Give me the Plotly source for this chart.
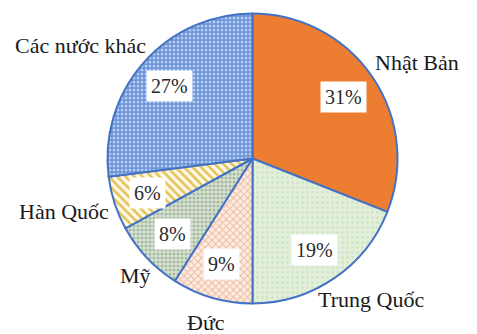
import math
import plotly.graph_objects as go

# Share of each partner (%), listed clockwise from 12 o'clock
countries = ["Nhật Bản", "Trung Quốc", "Đức", "Mỹ", "Hàn Quốc", "Các nước khác"]
shares = [31, 19, 9, 8, 6, 27]

W, H = 477, 334
CX, CY, R = 252.5, 158.5, 145.0   # pie centre and radius in pixels
FONT = "'Liberation Serif', 'Times New Roman', Times, serif"
FS_PCT = 20
FS_NAME = 22

fills = [
    dict(shape="", bgcolor="#ED7D31", fgcolor="#ED7D31"),
    dict(shape=".", bgcolor="#E2EFDA", fgcolor="#d2e5c6", size=5, solidity=0.25),
    dict(shape="x", bgcolor="#fcece3", fgcolor="#efb899", size=5, solidity=0.35),
    dict(shape=".", bgcolor="#d9e3d4", fgcolor="#a6b99e", size=4, solidity=0.45),
    dict(shape="\\", bgcolor="#fffbea", fgcolor="#e5c35c", size=6, solidity=0.45),
    dict(shape=".", bgcolor="#6691d8", fgcolor="#b7cbef", size=4, solidity=0.45),
]

fig = go.Figure(go.Pie(
    labels=countries,
    values=shares,
    sort=False,
    direction="clockwise",
    rotation=0,
    textinfo="none",
    hoverinfo="label+percent",
    marker=dict(
        colors=[f["bgcolor"] for f in fills],
        line=dict(color="#4472C4", width=2),
        pattern=dict(
            shape=[f["shape"] for f in fills],
            bgcolor=[f["bgcolor"] for f in fills],
            fgcolor=[f["fgcolor"] for f in fills],
            size=[f.get("size", 8) for f in fills],
            solidity=[f.get("solidity", 0.3) for f in fills],
        ),
    ),
    domain=dict(x=[(CX - R) / W, (CX + R) / W],
                y=[(H - CY - R) / H, (H - CY + R) / H]),
    showlegend=False,
))


def to_paper(px, py):
    return px / W, 1 - py / H


annotations = []
total = sum(shares)
cum = 0.0
for name, v in zip(countries, shares):
    mid = (cum + v / 2) / total * 2 * math.pi
    cum += v
    s, c = math.sin(mid), math.cos(mid)

    # percentage in a white box inside the slice
    px, py = CX + 0.76 * R * s, CY - 0.76 * R * c
    x, y = to_paper(px, py)
    annotations.append(dict(
        x=x, y=y, xref="paper", yref="paper", showarrow=False,
        text=f"{v}%", font=dict(family=FONT, size=FS_PCT, color="#2b2b2b"),
        bgcolor="white", borderpad=4, xanchor="center", yanchor="middle",
    ))

    # category name pushed outward from the rim point of the slice
    half_w = (10.5 * len(name) + 5) / 2
    half_h = 11
    rx, ry = CX + R * s, CY - R * c
    px = rx + s * half_w * 1.2
    py = ry - c * half_h * 2.3
    x, y = to_paper(px, py)
    annotations.append(dict(
        x=x, y=y, xref="paper", yref="paper", showarrow=False,
        text=name, font=dict(family=FONT, size=FS_NAME, color="#1a1a1a"),
        xanchor="center", yanchor="middle",
    ))

fig.update_layout(
    width=W, height=H,
    margin=dict(l=0, r=0, t=0, b=0),
    paper_bgcolor="white",
    plot_bgcolor="white",
    font=dict(family=FONT),
    annotations=annotations,
)

fig.write_html("out.html")
